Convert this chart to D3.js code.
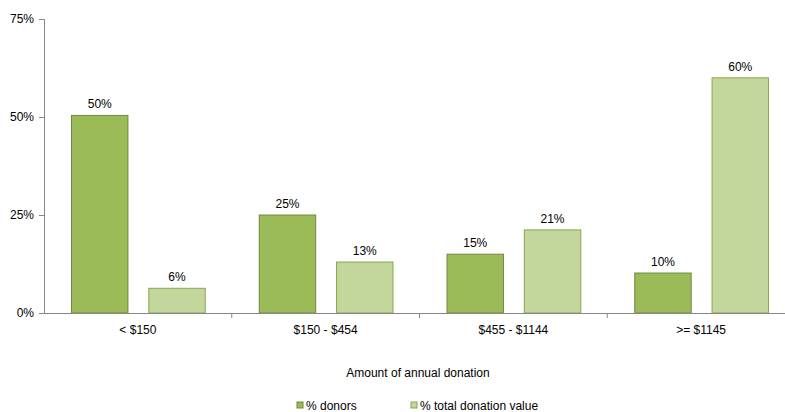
<!DOCTYPE html>
<html>
<head>
<meta charset="utf-8">
<script src="https://cdn.jsdelivr.net/npm/d3@7"></script>
<style>
body{margin:0;background:#fff;}
svg{display:block;font-family:"Liberation Sans",Arial,sans-serif;}
</style>
</head>
<body>
<svg id="chart" width="785" height="412"></svg>
<script>
const categories = ["< $150", "$150 - $454", "$455 - $1144", ">= $1145"];
const seriesNames = ["% donors", "% total donation value"];
const donors = [50.4, 25, 15, 10.2];
const donationValue = [6.3, 13, 21.2, 60];
const yTicks = [0, 25, 50, 75];
const colors = ["#9BBB59", "#C3D69B"];
const strokes = ["#71893F", "#8AA64E"];

const svg = d3.select("#chart");
const x0 = d3.scaleBand().domain(categories).range([44, 795]).paddingInner(0).paddingOuter(0);
const x1 = d3.scaleBand().domain(seriesNames).range([27, x0.bandwidth() - 27]).paddingInner(0.27).paddingOuter(0);
const y = d3.scaleLinear().domain([0, 75]).range([313, 19]);

const data = categories.map((c, i) => ({cat: c, vals: [donors[i], donationValue[i]]}));

// Y axis
const yAxis = svg.append("g").attr("transform", "translate(44,0)")
  .call(d3.axisLeft(y).tickValues(yTicks).tickFormat(d => d + "%").tickSize(5).tickPadding(5));
yAxis.select(".domain").attr("stroke", "#868686");
yAxis.selectAll(".tick line").attr("stroke", "#868686");
yAxis.selectAll(".tick text").attr("fill", "#000").style("font-size", "12px").style("font-family", "Liberation Sans, Arial, sans-serif");

// Bars
const groups = svg.append("g").selectAll("g").data(data).join("g")
  .attr("transform", d => `translate(${x0(d.cat)},0)`);
groups.selectAll("rect").data(d => d.vals.map((v, j) => ({s: seriesNames[j], v, j}))).join("rect")
  .attr("x", d => x1(d.s) + 0.5)
  .attr("y", d => y(d.v))
  .attr("width", x1.bandwidth())
  .attr("height", d => y(0) - y(d.v))
  .attr("fill", d => colors[d.j])
  .attr("stroke", d => strokes[d.j])
  .attr("stroke-width", 1);
groups.selectAll("text").data(d => d.vals.map((v, j) => ({s: seriesNames[j], v, j}))).join("text")
  .attr("x", d => x1(d.s) + x1.bandwidth() / 2 + 0.5)
  .attr("y", d => y(d.v) - 7)
  .attr("text-anchor", "middle")
  .style("font-size", "12px")
  .attr("fill", "#000")
  .text(d => Math.round(d.v) + "%");

// X axis
const xAxis = svg.append("g").attr("transform", "translate(0,313)")
  .call(d3.axisBottom(x0).tickSize(0).tickPadding(12));
xAxis.select(".domain").attr("stroke", "#868686");
xAxis.selectAll(".tick text").attr("fill", "#000").style("font-size", "12px").style("font-family", "Liberation Sans, Arial, sans-serif");
svg.append("g").selectAll("line").data(categories.slice(1)).join("line")
  .attr("x1", d => x0(d)).attr("x2", d => x0(d))
  .attr("y1", 313).attr("y2", 318)
  .attr("stroke", "#868686");

// Axis title
svg.append("text").attr("x", 418).attr("y", 377).attr("text-anchor", "middle")
  .style("font-size", "12px").attr("fill", "#000").text("Amount of annual donation");

// Legend
const legendX = [297, 411];
const lg = svg.append("g").selectAll("g").data(seriesNames).join("g")
  .attr("transform", (d, i) => `translate(${legendX[i]},402)`);
lg.append("rect").attr("x", 0).attr("y", 0).attr("width", 6).attr("height", 6)
  .attr("fill", (d, i) => colors[i]).attr("stroke", (d, i) => strokes[i]);
lg.append("text").attr("x", 9).attr("y", 8).style("font-size", "12px").attr("fill", "#000").text(d => d);
</script>
</body>
</html>
